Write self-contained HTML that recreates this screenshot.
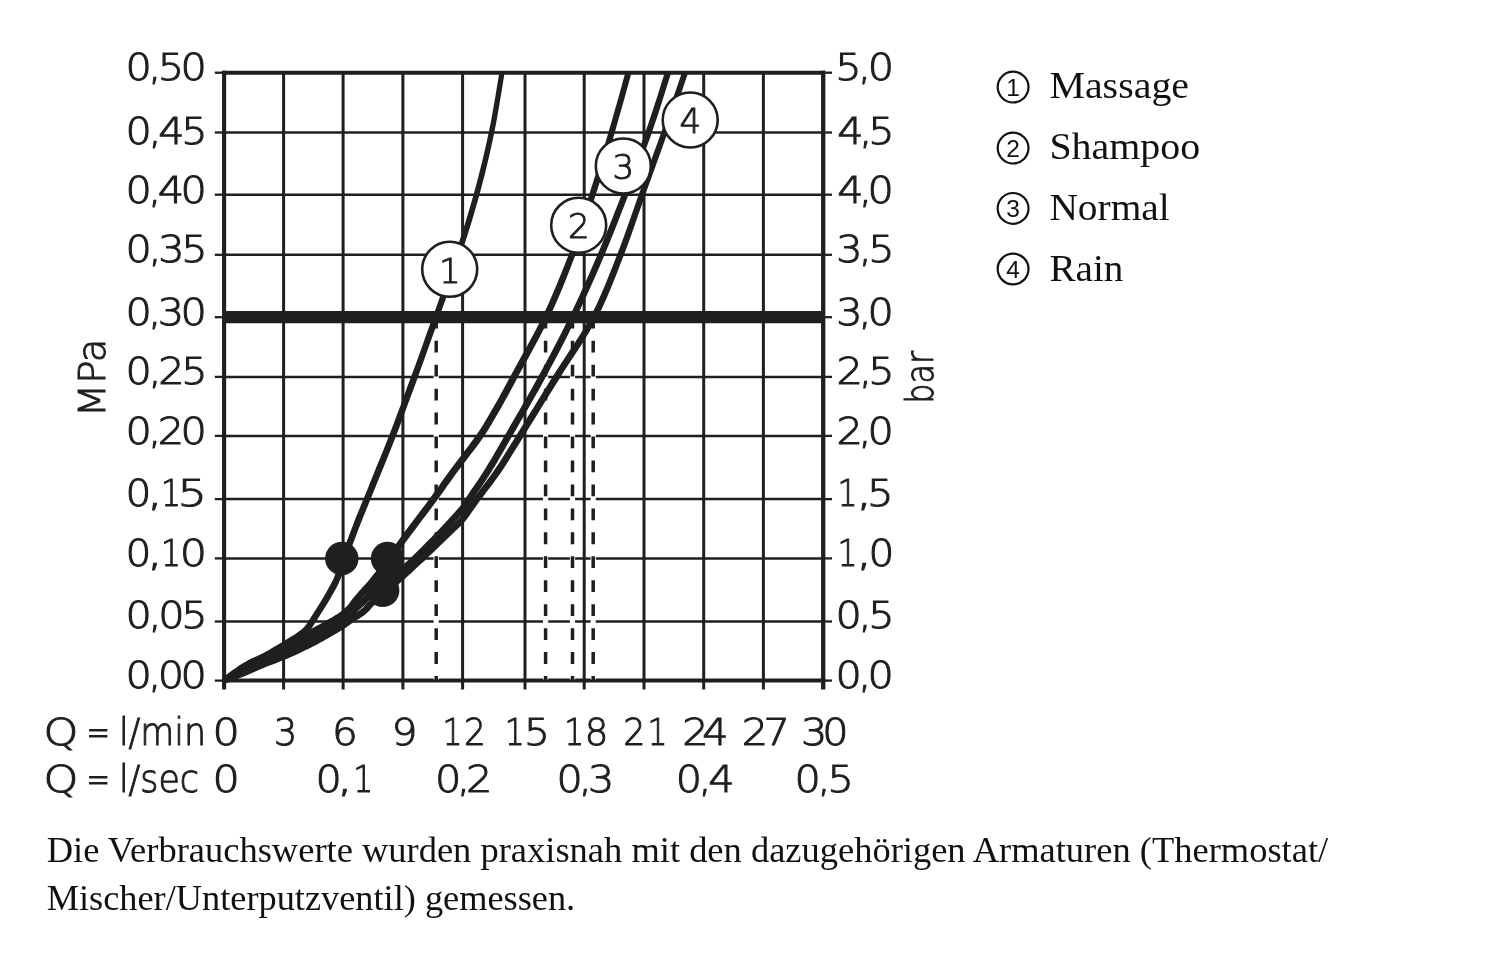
<!DOCTYPE html>
<html lang="de"><head><meta charset="utf-8"><title>Durchflussdiagramm</title>
<style>
html,body{margin:0;padding:0;background:#fff;}
body{width:1500px;height:956px;overflow:hidden;}
svg{display:block;}
.ax{font-family:"DejaVu Sans Light","DejaVu Sans","Liberation Sans",sans-serif;font-weight:200;font-size:33px;fill:#1f1e21;stroke:#1f1e21;stroke-width:1px;}
.se{font-family:"Liberation Serif",serif;fill:#111;}
.cn{font-family:"Liberation Sans",sans-serif;fill:#111;}
</style></head><body>
<svg width="1500" height="956" viewBox="0 0 1500 956">
<rect width="1500" height="956" fill="#fff"/>
<g stroke="#1f1e21" fill="none">
<line x1="224.1" y1="132.5" x2="823.2" y2="132.5" stroke-width="2.5"/>
<line x1="224.1" y1="194.7" x2="823.2" y2="194.7" stroke-width="2.5"/>
<line x1="224.1" y1="254.8" x2="823.2" y2="254.8" stroke-width="2.5"/>
<line x1="224.1" y1="376.9" x2="823.2" y2="376.9" stroke-width="2.5"/>
<line x1="224.1" y1="435.9" x2="823.2" y2="435.9" stroke-width="2.5"/>
<line x1="224.1" y1="499.1" x2="823.2" y2="499.1" stroke-width="2.5"/>
<line x1="224.1" y1="558.4" x2="823.2" y2="558.4" stroke-width="2.5"/>
<line x1="224.1" y1="621.5" x2="823.2" y2="621.5" stroke-width="2.5"/>
<line x1="283.6" y1="72.7" x2="283.6" y2="689.5" stroke-width="3"/>
<line x1="343.1" y1="72.7" x2="343.1" y2="689.5" stroke-width="3"/>
<line x1="402.9" y1="72.7" x2="402.9" y2="689.5" stroke-width="3"/>
<line x1="462.6" y1="72.7" x2="462.6" y2="689.5" stroke-width="3"/>
<line x1="525.0" y1="72.7" x2="525.0" y2="689.5" stroke-width="3"/>
<line x1="584.2" y1="72.7" x2="584.2" y2="689.5" stroke-width="3"/>
<line x1="644.0" y1="72.7" x2="644.0" y2="689.5" stroke-width="3"/>
<line x1="703.7" y1="72.7" x2="703.7" y2="689.5" stroke-width="3"/>
<line x1="763.4" y1="72.7" x2="763.4" y2="689.5" stroke-width="3"/>
<line x1="214.8" y1="72.7" x2="224.1" y2="72.7" stroke-width="2.3"/>
<line x1="823.2" y1="72.7" x2="832" y2="72.7" stroke-width="2.3"/>
<line x1="214.8" y1="132.5" x2="224.1" y2="132.5" stroke-width="2.3"/>
<line x1="823.2" y1="132.5" x2="832" y2="132.5" stroke-width="2.3"/>
<line x1="214.8" y1="194.7" x2="224.1" y2="194.7" stroke-width="2.3"/>
<line x1="823.2" y1="194.7" x2="832" y2="194.7" stroke-width="2.3"/>
<line x1="214.8" y1="254.8" x2="224.1" y2="254.8" stroke-width="2.3"/>
<line x1="823.2" y1="254.8" x2="832" y2="254.8" stroke-width="2.3"/>
<line x1="214.8" y1="317.2" x2="224.1" y2="317.2" stroke-width="2.3"/>
<line x1="823.2" y1="317.2" x2="832" y2="317.2" stroke-width="2.3"/>
<line x1="214.8" y1="376.9" x2="224.1" y2="376.9" stroke-width="2.3"/>
<line x1="823.2" y1="376.9" x2="832" y2="376.9" stroke-width="2.3"/>
<line x1="214.8" y1="435.9" x2="224.1" y2="435.9" stroke-width="2.3"/>
<line x1="823.2" y1="435.9" x2="832" y2="435.9" stroke-width="2.3"/>
<line x1="214.8" y1="499.1" x2="224.1" y2="499.1" stroke-width="2.3"/>
<line x1="823.2" y1="499.1" x2="832" y2="499.1" stroke-width="2.3"/>
<line x1="214.8" y1="558.4" x2="224.1" y2="558.4" stroke-width="2.3"/>
<line x1="823.2" y1="558.4" x2="832" y2="558.4" stroke-width="2.3"/>
<line x1="214.8" y1="621.5" x2="224.1" y2="621.5" stroke-width="2.3"/>
<line x1="823.2" y1="621.5" x2="832" y2="621.5" stroke-width="2.3"/>
<line x1="214.8" y1="680.6" x2="224.1" y2="680.6" stroke-width="2.3"/>
<line x1="823.2" y1="680.6" x2="832" y2="680.6" stroke-width="2.3"/>
<line x1="224.1" y1="70.7" x2="224.1" y2="689.5" stroke-width="4.1"/>
<line x1="823.2" y1="70.7" x2="823.2" y2="689.5" stroke-width="4.3"/>
<line x1="222.1" y1="72.7" x2="825.2" y2="72.7" stroke-width="4"/>
<line x1="222.1" y1="680.6" x2="825.2" y2="680.6" stroke-width="4"/>
</g>
<line x1="436.2" y1="323" x2="436.2" y2="679.6" stroke="#fff" stroke-width="5.2"/>
<line x1="436.2" y1="316.8" x2="436.2" y2="680.6" stroke="#1f1e21" stroke-width="3.5" stroke-dasharray="11.8 12.15"/>
<line x1="545.6" y1="323" x2="545.6" y2="679.6" stroke="#fff" stroke-width="5.2"/>
<line x1="545.6" y1="316.8" x2="545.6" y2="680.6" stroke="#1f1e21" stroke-width="3.5" stroke-dasharray="11.8 12.15"/>
<line x1="572.5" y1="323" x2="572.5" y2="679.6" stroke="#fff" stroke-width="5.2"/>
<line x1="572.5" y1="316.8" x2="572.5" y2="680.6" stroke="#1f1e21" stroke-width="3.5" stroke-dasharray="11.8 12.15"/>
<line x1="593.2" y1="323" x2="593.2" y2="679.6" stroke="#fff" stroke-width="5.2"/>
<line x1="593.2" y1="316.8" x2="593.2" y2="680.6" stroke="#1f1e21" stroke-width="3.5" stroke-dasharray="11.8 12.15"/>
<clipPath id="cp"><rect x="224.1" y="72.7" width="599.1" height="609.9"/></clipPath>
<g fill="#1f1e21" stroke="none" clip-path="url(#cp)">
<path d="M226.1 683.3 L228.4 681.6 L231.5 679.2 L235.3 676.4 L239.2 673.5 L243.2 670.8 L246.7 668.5 L250.0 666.7 L253.2 665.0 L256.5 663.5 L259.9 662.0 L263.2 660.4 L266.5 658.7 L269.8 656.9 L273.1 655.1 L276.2 653.2 L279.4 651.4 L282.4 649.6 L285.3 647.8 L288.2 646.1 L291.1 644.4 L293.9 642.6 L296.5 641.0 L299.0 639.4 L301.2 637.9 L303.0 636.6 L304.6 635.5 L305.9 634.4 L307.1 633.3 L308.3 632.2 L309.4 631.0 L310.6 629.7 L311.6 628.4 L312.5 627.1 L313.3 625.8 L314.0 624.6 L314.9 623.3 L315.7 622.0 L316.6 620.7 L317.4 619.4 L318.3 618.0 L319.2 616.4 L320.3 614.8 L321.4 613.0 L322.7 611.0 L324.0 609.0 L325.4 606.8 L326.9 604.3 L328.4 601.7 L330.2 598.7 L332.0 595.5 L334.0 592.1 L336.0 588.5 L337.8 584.9 L339.5 581.3 L341.0 577.9 L342.2 574.4 L343.4 571.0 L344.5 567.6 L345.5 564.3 L346.6 561.1 L347.8 557.9 L348.9 554.8 L350.0 551.7 L351.2 548.6 L352.4 545.4 L353.6 542.2 L354.9 538.8 L356.2 535.3 L357.5 531.8 L358.8 528.2 L360.2 524.7 L361.6 521.2 L362.8 518.2 L363.7 515.8 L364.7 513.4 L365.9 510.4 L367.7 506.3 L370.1 500.3 L373.4 492.2 L377.4 482.3 L382.0 471.1 L386.7 459.5 L391.3 447.9 L395.6 437.1 L399.5 427.0 L403.2 417.1 L406.8 407.3 L410.4 397.6 L414.0 387.9 L417.6 378.0 L421.1 368.1 L424.7 358.2 L428.2 348.2 L431.8 338.2 L435.4 328.2 L438.9 318.0 L442.6 307.8 L446.3 297.4 L450.1 286.9 L453.8 276.5 L457.4 266.0 L460.8 255.7 L464.1 245.6 L467.4 235.6 L470.5 225.6 L473.5 215.6 L476.4 205.6 L479.3 195.5 L482.0 185.1 L484.7 174.7 L487.2 164.2 L489.7 153.8 L492.0 143.3 L494.2 133.0 L496.3 122.3 L498.3 110.9 L500.2 99.6 L502.0 89.1 L503.4 80.1 L504.6 73.1 L505.4 68.8 L505.8 66.4 L505.9 65.5 L500.8 64.2 L505.9 65.1 L505.9 65.4 L500.7 64.6 L500.6 65.4 L505.8 65.9 L500.7 64.7 L500.6 65.5 L500.2 67.9 L499.4 72.3 L498.2 79.2 L496.7 88.3 L495.0 98.8 L493.0 110.0 L491.0 121.3 L488.8 132.0 L486.6 142.2 L484.3 152.5 L481.8 162.9 L479.2 173.3 L476.5 183.7 L473.7 193.9 L470.9 204.0 L467.9 214.0 L464.9 223.9 L461.8 233.8 L458.5 243.8 L455.2 253.9 L451.7 264.1 L448.0 274.5 L444.3 284.9 L440.5 295.3 L436.8 305.7 L433.1 316.0 L429.4 326.1 L425.8 336.1 L422.3 346.1 L418.7 356.0 L415.1 365.9 L411.4 375.8 L407.8 385.6 L404.2 395.3 L400.7 405.0 L397.0 414.8 L393.3 424.7 L389.4 434.7 L385.2 445.5 L380.6 457.0 L375.8 468.6 L371.3 479.8 L367.3 489.7 L363.9 497.9 L361.5 503.8 L359.8 507.9 L358.6 510.9 L357.6 513.3 L356.6 515.8 L355.4 518.8 L354.0 522.3 L352.7 525.9 L351.3 529.4 L350.0 533.0 L348.7 536.5 L347.4 539.8 L346.2 543.1 L345.0 546.3 L343.8 549.4 L342.7 552.5 L341.6 555.7 L340.4 558.9 L339.2 562.2 L338.2 565.6 L337.1 568.9 L336.0 572.2 L334.8 575.5 L333.5 578.7 L331.9 581.9 L330.1 585.4 L328.2 588.8 L326.3 592.2 L324.4 595.4 L322.8 598.3 L321.2 600.9 L319.8 603.3 L318.4 605.4 L317.1 607.5 L315.9 609.4 L314.7 611.2 L313.6 612.9 L312.7 614.5 L311.8 615.8 L311.0 617.1 L310.2 618.4 L309.3 619.7 L308.5 621.0 L307.7 622.3 L306.9 623.5 L306.2 624.6 L305.4 625.6 L304.6 626.6 L303.6 627.5 L302.7 628.4 L301.7 629.3 L300.5 630.2 L299.1 631.3 L297.4 632.5 L295.4 633.9 L293.0 635.4 L290.4 637.0 L287.6 638.7 L284.8 640.4 L281.9 642.2 L279.0 643.9 L276.0 645.7 L272.9 647.5 L269.8 649.4 L266.6 651.2 L263.5 652.9 L260.3 654.5 L257.1 656.0 L253.8 657.5 L250.3 659.1 L246.8 660.9 L243.3 662.9 L239.5 665.3 L235.4 668.2 L231.3 671.1 L227.6 673.9 L224.4 676.3 L222.1 677.9Z"/>
<path d="M226.0 683.5 L228.3 682.0 L231.5 679.9 L235.2 677.4 L239.2 674.8 L243.1 672.4 L246.7 670.3 L250.0 668.5 L253.3 666.9 L256.6 665.4 L259.9 663.9 L263.2 662.4 L266.5 660.9 L269.7 659.3 L272.7 657.8 L275.6 656.3 L278.6 654.8 L281.8 653.1 L285.3 651.3 L289.1 649.2 L293.4 646.8 L297.7 644.3 L302.1 641.9 L306.1 639.6 L309.8 637.6 L313.0 635.8 L315.9 634.2 L318.6 632.8 L321.1 631.5 L323.5 630.2 L325.9 628.9 L328.2 627.6 L330.3 626.4 L332.4 625.2 L334.3 624.1 L336.1 623.0 L337.7 622.0 L339.2 621.1 L340.5 620.3 L341.7 619.5 L342.8 618.7 L344.0 617.9 L345.3 617.0 L346.6 615.9 L347.9 614.7 L349.3 613.5 L350.6 612.3 L351.9 611.1 L353.1 609.9 L354.1 608.7 L355.0 607.5 L355.6 606.5 L356.3 605.5 L356.9 604.5 L357.8 603.4 L359.0 602.0 L360.4 600.3 L362.0 598.5 L363.6 596.7 L365.1 594.9 L366.5 593.3 L367.7 592.1 L368.6 591.1 L369.6 590.1 L370.7 588.9 L372.1 587.3 L373.9 585.1 L376.2 582.3 L378.9 578.9 L381.9 575.2 L384.9 571.3 L388.0 567.3 L390.8 563.6 L393.3 560.2 L395.4 557.0 L397.5 553.9 L399.8 550.6 L402.5 546.7 L405.8 542.1 L410.1 536.3 L415.2 529.5 L420.7 522.1 L426.3 514.7 L431.7 507.6 L436.4 501.2 L440.4 495.7 L444.0 490.7 L447.2 486.1 L450.4 481.7 L453.7 477.1 L457.3 472.1 L461.4 466.7 L465.7 460.9 L470.2 455.1 L474.7 449.2 L479.0 443.4 L482.9 437.9 L486.4 432.7 L489.5 427.7 L492.4 422.8 L495.2 418.1 L498.0 413.3 L500.7 408.4 L503.4 403.8 L505.7 399.6 L508.0 395.4 L510.5 390.7 L513.5 385.3 L517.0 378.6 L521.5 370.3 L526.7 360.9 L532.4 350.6 L538.2 339.8 L543.8 329.0 L549.0 318.5 L553.8 308.1 L558.4 297.7 L562.8 287.2 L567.0 276.7 L571.1 266.3 L575.0 255.9 L578.8 245.8 L582.3 235.7 L585.7 225.8 L588.9 215.8 L592.2 205.8 L595.4 195.7 L598.7 185.4 L602.0 175.0 L605.2 164.5 L608.4 154.0 L611.5 143.6 L614.5 133.4 L617.6 122.6 L620.8 111.3 L624.0 100.0 L626.9 89.5 L629.4 80.4 L631.3 73.5 L632.5 69.1 L633.2 66.8 L633.4 65.8 L627.8 63.8 L633.4 65.2 L633.4 65.7 L627.6 64.3 L627.4 65.2 L633.2 66.4 L627.6 64.4 L627.4 65.2 L626.7 67.5 L625.5 71.9 L623.6 78.8 L621.1 87.9 L618.2 98.4 L615.0 109.6 L611.8 121.0 L608.7 131.6 L605.6 141.9 L602.5 152.2 L599.3 162.7 L596.0 173.1 L592.7 183.5 L589.4 193.7 L586.1 203.8 L582.9 213.8 L579.6 223.7 L576.2 233.6 L572.7 243.6 L569.0 253.7 L565.0 263.9 L560.9 274.2 L556.7 284.6 L552.3 295.0 L547.7 305.4 L543.0 315.5 L537.8 325.9 L532.2 336.7 L526.4 347.3 L520.7 357.6 L515.5 367.0 L511.0 375.2 L507.3 382.0 L504.4 387.4 L501.9 392.1 L499.6 396.2 L497.3 400.4 L494.7 405.0 L491.9 409.8 L489.2 414.5 L486.4 419.2 L483.6 424.0 L480.5 428.9 L477.1 433.9 L473.3 439.3 L469.1 445.0 L464.7 450.8 L460.2 456.7 L455.8 462.4 L451.7 467.9 L448.0 473.0 L444.7 477.6 L441.5 482.1 L438.3 486.7 L434.8 491.6 L430.8 497.0 L426.1 503.4 L420.7 510.5 L415.1 517.9 L409.6 525.3 L404.5 532.1 L400.2 537.9 L396.8 542.7 L394.0 546.6 L391.7 550.0 L389.7 553.1 L387.6 556.1 L385.2 559.4 L382.4 563.1 L379.4 567.0 L376.4 570.9 L373.4 574.6 L370.7 577.9 L368.5 580.7 L366.8 582.7 L365.5 584.2 L364.5 585.2 L363.6 586.2 L362.5 587.3 L361.3 588.7 L359.8 590.3 L358.3 592.1 L356.7 593.9 L355.1 595.7 L353.7 597.5 L352.4 599.0 L351.3 600.4 L350.5 601.6 L349.8 602.6 L349.2 603.5 L348.6 604.3 L347.9 605.1 L346.9 606.1 L345.8 607.2 L344.6 608.3 L343.4 609.4 L342.1 610.5 L340.9 611.4 L339.9 612.3 L338.9 613.0 L337.9 613.7 L336.8 614.4 L335.5 615.1 L334.1 616.0 L332.5 617.0 L330.7 618.0 L328.8 619.1 L326.9 620.3 L324.7 621.5 L322.5 622.7 L320.2 624.0 L317.8 625.3 L315.3 626.6 L312.6 628.1 L309.7 629.7 L306.4 631.4 L302.7 633.5 L298.6 635.8 L294.3 638.3 L289.9 640.7 L285.7 643.0 L281.9 645.1 L278.5 646.9 L275.4 648.6 L272.4 650.1 L269.5 651.6 L266.6 653.0 L263.5 654.5 L260.3 656.1 L257.0 657.5 L253.7 659.0 L250.3 660.6 L246.8 662.3 L243.3 664.1 L239.5 666.4 L235.4 668.9 L231.4 671.6 L227.6 674.1 L224.4 676.2 L222.2 677.7Z"/>
<path d="M225.6 683.6 L227.9 682.5 L231.1 680.9 L234.8 679.0 L238.9 676.9 L242.8 674.9 L246.5 673.2 L249.8 671.6 L253.2 670.0 L256.5 668.5 L259.9 667.0 L263.1 665.6 L266.4 664.1 L269.5 662.7 L272.5 661.4 L275.6 660.1 L278.6 658.8 L281.8 657.4 L285.1 655.9 L288.5 654.2 L292.1 652.4 L295.8 650.5 L299.4 648.6 L303.1 646.7 L306.6 644.8 L310.0 643.0 L313.4 641.2 L316.8 639.4 L320.2 637.6 L323.5 635.8 L326.7 633.9 L330.0 632.0 L333.3 630.0 L336.6 628.0 L339.7 626.0 L342.6 624.2 L345.0 622.6 L347.0 621.3 L348.5 620.1 L349.8 619.1 L350.9 618.1 L351.8 617.3 L352.8 616.4 L353.8 615.5 L354.6 614.6 L355.3 613.9 L355.9 613.2 L356.6 612.4 L357.5 611.6 L358.6 610.5 L360.0 609.2 L361.6 607.8 L363.2 606.4 L364.8 605.0 L366.3 603.5 L367.7 602.1 L368.9 600.7 L370.0 599.4 L371.1 598.1 L372.2 596.9 L373.5 595.7 L374.9 594.5 L376.3 593.4 L377.9 592.2 L379.6 590.9 L381.6 589.4 L383.8 587.7 L386.4 585.8 L389.4 583.6 L392.5 581.3 L395.8 578.9 L398.9 576.5 L401.9 574.2 L404.5 572.1 L406.7 570.3 L409.0 568.5 L411.3 566.4 L414.1 564.0 L417.4 560.8 L421.4 556.9 L426.1 552.2 L431.1 547.1 L436.3 541.9 L441.1 536.9 L445.5 532.3 L449.4 528.2 L453.1 524.2 L456.7 520.4 L459.9 516.8 L462.8 513.5 L465.2 510.7 L466.9 508.6 L468.0 507.1 L468.7 506.0 L469.3 505.0 L470.2 503.5 L471.8 501.0 L474.3 497.4 L477.3 493.0 L480.7 488.0 L484.3 482.7 L487.9 477.2 L491.4 471.8 L494.5 466.7 L497.5 461.7 L500.5 456.5 L503.7 451.0 L507.2 444.8 L511.3 437.6 L516.2 429.2 L521.6 419.8 L527.5 409.7 L533.4 399.2 L539.4 388.7 L545.0 378.5 L550.3 368.6 L555.6 358.7 L560.8 348.7 L566.0 338.7 L571.0 328.6 L576.0 318.4 L580.9 308.1 L585.7 297.7 L590.4 287.3 L595.1 276.8 L599.6 266.4 L604.0 256.1 L608.2 245.9 L612.3 235.9 L616.3 225.9 L620.2 216.0 L624.1 206.0 L628.0 195.9 L632.0 185.6 L636.0 175.2 L640.0 164.7 L644.0 154.2 L647.9 143.8 L651.6 133.5 L655.2 122.8 L659.0 111.4 L662.6 100.1 L665.9 89.6 L668.7 80.6 L671.0 73.6 L672.4 69.3 L673.1 66.9 L673.4 66.1 L667.5 64.1 L673.4 66.2 L673.4 66.0 L667.6 64.0 L667.5 64.3 L673.4 66.0 L667.5 64.2 L667.2 65.0 L666.5 67.4 L665.0 71.8 L662.8 78.7 L660.0 87.8 L656.7 98.3 L653.0 109.5 L649.3 120.8 L645.6 131.5 L642.0 141.7 L638.1 152.0 L634.1 162.4 L630.1 172.9 L626.0 183.3 L622.0 193.5 L618.1 203.7 L614.2 213.6 L610.3 223.6 L606.3 233.5 L602.2 243.4 L598.0 253.5 L593.6 263.8 L589.1 274.1 L584.4 284.6 L579.7 295.0 L574.9 305.3 L570.0 315.6 L565.1 325.6 L560.0 335.7 L554.9 345.6 L549.7 355.5 L544.4 365.4 L539.0 375.3 L533.4 385.4 L527.5 395.9 L521.6 406.3 L515.7 416.4 L510.3 425.8 L505.5 434.2 L501.3 441.4 L497.8 447.6 L494.6 453.1 L491.7 458.2 L488.7 463.1 L485.6 468.2 L482.2 473.5 L478.7 478.9 L475.1 484.2 L471.7 489.1 L468.7 493.5 L466.2 497.2 L464.5 499.9 L463.4 501.5 L462.9 502.5 L462.4 503.3 L461.6 504.3 L460.0 506.3 L457.6 509.1 L454.8 512.2 L451.6 515.8 L448.2 519.6 L444.4 523.5 L440.5 527.7 L436.2 532.2 L431.4 537.2 L426.3 542.3 L421.3 547.4 L416.6 552.1 L412.6 556.0 L409.4 559.0 L406.8 561.3 L404.6 563.3 L402.5 565.0 L400.2 566.8 L397.7 568.8 L394.8 571.1 L391.7 573.4 L388.5 575.8 L385.3 578.1 L382.4 580.3 L379.8 582.3 L377.5 584.0 L375.6 585.4 L373.8 586.7 L372.1 588.0 L370.5 589.3 L368.9 590.7 L367.4 592.1 L366.1 593.6 L364.9 594.9 L363.8 596.2 L362.7 597.5 L361.5 598.7 L360.2 600.0 L358.6 601.4 L357.1 602.8 L355.5 604.1 L354.1 605.4 L352.7 606.6 L351.7 607.7 L350.8 608.6 L350.2 609.4 L349.6 610.0 L349.0 610.7 L348.2 611.4 L347.3 612.2 L346.4 613.0 L345.5 613.8 L344.4 614.7 L343.0 615.7 L341.2 617.0 L338.9 618.5 L336.1 620.3 L333.0 622.2 L329.8 624.2 L326.5 626.2 L323.3 628.1 L320.1 629.9 L316.9 631.6 L313.6 633.4 L310.3 635.2 L306.9 637.0 L303.4 638.8 L299.9 640.6 L296.3 642.5 L292.6 644.4 L289.0 646.3 L285.5 648.1 L282.1 649.7 L278.9 651.2 L275.9 652.6 L272.9 653.9 L269.9 655.2 L266.8 656.5 L263.6 657.9 L260.4 659.3 L257.1 660.8 L253.7 662.3 L250.4 663.8 L247.0 665.4 L243.5 667.0 L239.8 668.8 L235.8 670.8 L231.8 672.9 L228.0 674.8 L224.8 676.4 L222.6 677.6Z"/>
<path d="M225.3 683.8 L227.6 682.9 L230.8 681.6 L234.5 680.2 L238.6 678.6 L242.6 676.9 L246.3 675.4 L249.7 674.0 L253.1 672.5 L256.5 671.0 L259.8 669.6 L263.1 668.2 L266.3 666.8 L269.5 665.6 L272.6 664.4 L275.8 663.2 L278.9 662.0 L281.9 660.8 L284.9 659.6 L287.7 658.4 L290.5 657.2 L293.1 656.0 L295.7 654.9 L298.2 653.7 L300.8 652.5 L303.3 651.3 L305.7 650.1 L308.2 648.9 L310.6 647.7 L313.0 646.5 L315.5 645.2 L318.0 643.9 L320.4 642.5 L322.9 641.2 L325.4 639.8 L327.9 638.4 L330.3 636.9 L332.8 635.5 L335.4 634.0 L338.0 632.4 L340.5 630.9 L342.9 629.5 L344.9 628.3 L346.6 627.2 L347.8 626.3 L348.9 625.6 L349.9 624.8 L351.0 624.0 L352.4 623.0 L354.3 621.8 L356.6 620.3 L359.1 618.7 L361.6 617.1 L363.9 615.4 L366.0 613.8 L367.7 612.3 L369.1 610.9 L370.2 609.7 L371.1 608.5 L372.2 607.3 L373.5 606.0 L375.2 604.5 L377.2 602.8 L379.3 601.1 L381.6 599.2 L384.0 597.2 L386.6 595.0 L389.3 592.6 L392.2 590.1 L395.3 587.4 L398.4 584.6 L401.5 581.8 L404.7 578.9 L407.9 576.0 L411.3 572.9 L414.7 569.7 L418.1 566.6 L421.4 563.6 L424.3 560.9 L427.0 558.4 L429.4 556.1 L431.6 554.0 L433.8 551.9 L436.0 549.7 L438.4 547.4 L440.9 545.0 L443.6 542.4 L446.3 539.8 L449.0 537.2 L451.5 534.7 L453.9 532.4 L455.9 530.5 L457.7 528.9 L459.4 527.3 L461.2 525.6 L463.1 523.6 L465.2 521.2 L467.4 518.4 L469.6 515.4 L471.9 512.1 L474.3 508.7 L476.9 505.0 L479.7 501.1 L482.9 496.9 L486.3 492.3 L490.0 487.5 L493.8 482.4 L497.6 477.2 L501.3 471.9 L504.8 466.8 L508.0 461.7 L511.2 456.6 L514.6 451.1 L518.4 444.9 L522.9 437.7 L528.1 429.3 L533.9 419.9 L540.1 409.8 L546.6 399.3 L553.1 388.9 L559.4 378.7 L565.6 368.8 L572.1 358.9 L578.7 349.0 L585.1 338.9 L591.2 328.8 L596.9 318.5 L602.1 308.2 L606.8 297.7 L611.3 287.1 L615.5 276.7 L619.5 266.2 L623.5 256.0 L627.4 245.8 L631.0 235.8 L634.5 225.8 L637.9 215.8 L641.4 205.9 L644.9 195.8 L648.6 185.5 L652.4 175.1 L656.2 164.6 L659.9 154.2 L663.6 143.8 L667.3 133.5 L671.0 122.8 L674.9 111.4 L678.8 100.2 L682.4 89.7 L685.5 80.6 L687.8 73.7 L689.3 69.2 L690.1 66.9 L690.4 65.7 L685.7 62.6 L689.2 62.9 L690.3 65.5 L684.3 64.5 L685.4 67.6 L689.1 67.5 L684.5 64.6 L684.3 65.1 L683.6 67.4 L682.2 71.7 L679.8 78.7 L676.7 87.7 L673.1 98.2 L669.2 109.5 L665.3 120.8 L661.5 131.5 L657.9 141.7 L654.1 152.1 L650.4 162.5 L646.6 173.0 L642.8 183.4 L639.1 193.6 L635.5 203.8 L632.0 213.8 L628.5 223.7 L625.0 233.6 L621.4 243.6 L617.5 253.6 L613.5 263.9 L609.4 274.3 L605.2 284.7 L600.8 295.0 L596.2 305.3 L591.1 315.5 L585.5 325.5 L579.5 335.4 L573.1 345.3 L566.5 355.2 L560.0 365.2 L553.6 375.1 L547.3 385.3 L540.8 395.8 L534.4 406.2 L528.1 416.3 L522.3 425.7 L517.1 434.1 L512.7 441.3 L508.8 447.5 L505.4 453.0 L502.2 458.1 L499.1 463.0 L495.7 468.1 L492.1 473.3 L488.3 478.4 L484.6 483.4 L480.9 488.2 L477.5 492.8 L474.3 497.1 L471.4 501.1 L468.8 504.8 L466.4 508.2 L464.1 511.4 L462.0 514.2 L460.0 516.8 L458.1 519.0 L456.4 520.8 L454.8 522.3 L453.1 523.9 L451.3 525.5 L449.1 527.6 L446.8 529.8 L444.2 532.3 L441.6 534.9 L438.9 537.5 L436.2 540.1 L433.6 542.6 L431.3 544.8 L429.1 547.0 L426.9 549.1 L424.7 551.2 L422.3 553.4 L419.7 555.9 L416.7 558.7 L413.5 561.6 L410.2 564.7 L406.7 567.9 L403.4 570.9 L400.1 573.9 L397.0 576.7 L393.8 579.5 L390.7 582.3 L387.7 585.0 L384.9 587.5 L382.2 589.8 L379.7 592.0 L377.3 594.0 L375.0 595.8 L372.8 597.6 L370.8 599.3 L368.9 601.0 L367.3 602.6 L366.0 604.1 L364.9 605.3 L364.0 606.4 L363.1 607.4 L361.8 608.6 L360.0 609.9 L357.8 611.4 L355.4 613.0 L352.9 614.6 L350.6 616.1 L348.6 617.4 L347.0 618.5 L345.8 619.4 L344.8 620.1 L343.9 620.8 L342.8 621.6 L341.3 622.5 L339.3 623.7 L337.1 625.1 L334.6 626.6 L332.0 628.1 L329.4 629.6 L326.9 631.1 L324.5 632.5 L322.0 633.8 L319.6 635.2 L317.2 636.6 L314.7 637.9 L312.3 639.2 L309.9 640.4 L307.5 641.6 L305.2 642.8 L302.8 644.0 L300.3 645.1 L297.8 646.3 L295.3 647.5 L292.8 648.7 L290.3 649.9 L287.7 651.0 L285.0 652.2 L282.3 653.4 L279.4 654.5 L276.5 655.7 L273.4 656.8 L270.2 658.0 L267.0 659.3 L263.7 660.6 L260.4 661.9 L257.1 663.4 L253.8 664.8 L250.4 666.3 L247.1 667.7 L243.7 669.2 L240.1 670.6 L236.1 672.2 L232.1 673.8 L228.3 675.3 L225.1 676.5 L222.9 677.4Z"/>
</g>
<line x1="222.1" y1="317.2" x2="823.2" y2="317.2" stroke="#1f1e21" stroke-width="12.2"/>
<circle cx="341.8" cy="558.5" r="16.7" fill="#1f1e21"/>
<circle cx="387.5" cy="558.5" r="16.7" fill="#1f1e21"/>
<circle cx="382.7" cy="590.4" r="16.7" fill="#1f1e21"/>
<circle cx="449.7" cy="269.3" r="27.5" fill="#fff" stroke="#1f1e21" stroke-width="2.6"/>
<text class="ax" x="449.7" y="282.5" text-anchor="middle" style="font-size:34px">1</text>
<circle cx="578.7" cy="225.2" r="27.5" fill="#fff" stroke="#1f1e21" stroke-width="2.6"/>
<text class="ax" x="578.7" y="238.4" text-anchor="middle" style="font-size:34px">2</text>
<circle cx="623.3" cy="166.0" r="27.5" fill="#fff" stroke="#1f1e21" stroke-width="2.6"/>
<text class="ax" x="623.3" y="179.2" text-anchor="middle" style="font-size:34px">3</text>
<circle cx="690.2" cy="120.0" r="27.5" fill="#fff" stroke="#1f1e21" stroke-width="2.6"/>
<text class="ax" x="690.2" y="133.2" text-anchor="middle" style="font-size:34px">4</text>
<text class="ax" x="125.4" y="80.3" textLength="78.0" lengthAdjust="spacingAndGlyphs" letter-spacing="-3.20" style="font-size:37px">0,50</text>
<text class="ax" x="125.4" y="144.3" textLength="78.9" lengthAdjust="spacingAndGlyphs" letter-spacing="-2.98" style="font-size:37px">0,45</text>
<text class="ax" x="125.4" y="202.5" textLength="78.0" lengthAdjust="spacingAndGlyphs" letter-spacing="-3.20" style="font-size:37px">0,40</text>
<text class="ax" x="125.4" y="262.2" textLength="78.9" lengthAdjust="spacingAndGlyphs" letter-spacing="-2.98" style="font-size:37px">0,35</text>
<text class="ax" x="125.4" y="324.5" textLength="78.0" lengthAdjust="spacingAndGlyphs" letter-spacing="-3.20" style="font-size:37px">0,30</text>
<text class="ax" x="125.4" y="384.2" textLength="78.9" lengthAdjust="spacingAndGlyphs" letter-spacing="-2.98" style="font-size:37px">0,25</text>
<text class="ax" x="125.4" y="443.8" textLength="78.0" lengthAdjust="spacingAndGlyphs" letter-spacing="-3.20" style="font-size:37px">0,20</text>
<text class="ax" y="505.7" style="font-size:37px"><tspan x="125.4" textLength="25.9" lengthAdjust="spacingAndGlyphs">0</tspan><tspan x="146.8" textLength="16.5" lengthAdjust="spacingAndGlyphs">,</tspan><tspan x="161.1" textLength="20.0" lengthAdjust="spacingAndGlyphs">1</tspan><tspan x="177.4" textLength="29.5" lengthAdjust="spacingAndGlyphs">5</tspan></text>
<text class="ax" y="566.0" style="font-size:37px"><tspan x="125.4" textLength="25.9" lengthAdjust="spacingAndGlyphs">0</tspan><tspan x="146.8" textLength="16.5" lengthAdjust="spacingAndGlyphs">,</tspan><tspan x="161.1" textLength="20.0" lengthAdjust="spacingAndGlyphs">1</tspan><tspan x="179.8" textLength="27.3" lengthAdjust="spacingAndGlyphs">0</tspan></text>
<text class="ax" x="125.4" y="628.4" textLength="78.9" lengthAdjust="spacingAndGlyphs" letter-spacing="-2.98" style="font-size:37px">0,05</text>
<text class="ax" x="125.4" y="688.0" textLength="78.0" lengthAdjust="spacingAndGlyphs" letter-spacing="-3.20" style="font-size:37px">0,00</text>
<text class="ax" x="835.3" y="80.3" textLength="55.1" lengthAdjust="spacingAndGlyphs" letter-spacing="-3.22" style="font-size:37px">5,0</text>
<text class="ax" x="837.2" y="144.3" textLength="53.2" lengthAdjust="spacingAndGlyphs" letter-spacing="-3.78" style="font-size:37px">4,5</text>
<text class="ax" x="837.2" y="202.5" textLength="52.1" lengthAdjust="spacingAndGlyphs" letter-spacing="-4.10" style="font-size:37px">4,0</text>
<text class="ax" x="836.2" y="262.2" textLength="54.8" lengthAdjust="spacingAndGlyphs" letter-spacing="-3.31" style="font-size:37px">3,5</text>
<text class="ax" x="836.2" y="324.5" textLength="53.7" lengthAdjust="spacingAndGlyphs" letter-spacing="-3.64" style="font-size:37px">3,0</text>
<text class="ax" x="836.4" y="384.2" textLength="54.5" lengthAdjust="spacingAndGlyphs" letter-spacing="-3.41" style="font-size:37px">2,5</text>
<text class="ax" x="836.4" y="443.8" textLength="53.4" lengthAdjust="spacingAndGlyphs" letter-spacing="-3.73" style="font-size:37px">2,0</text>
<text class="ax" y="505.7" style="font-size:37px"><tspan x="837.4" textLength="20.0" lengthAdjust="spacingAndGlyphs">1</tspan><tspan x="856.0" textLength="16.5" lengthAdjust="spacingAndGlyphs">,</tspan><tspan x="867.1" textLength="26.6" lengthAdjust="spacingAndGlyphs">5</tspan></text>
<text class="ax" y="566.0" style="font-size:37px"><tspan x="837.4" textLength="20.0" lengthAdjust="spacingAndGlyphs">1</tspan><tspan x="856.0" textLength="16.5" lengthAdjust="spacingAndGlyphs">,</tspan><tspan x="868.4" textLength="25.9" lengthAdjust="spacingAndGlyphs">0</tspan></text>
<text class="ax" x="835.6" y="628.4" textLength="55.7" lengthAdjust="spacingAndGlyphs" letter-spacing="-3.04" style="font-size:37px">0,5</text>
<text class="ax" x="835.6" y="688.0" textLength="54.6" lengthAdjust="spacingAndGlyphs" letter-spacing="-3.36" style="font-size:37px">0,0</text>
<text class="ax" transform="translate(104.6,411.5) rotate(-90)" x="-5.7" y="0" textLength="78.7" lengthAdjust="spacingAndGlyphs" style="font-size:37px">MPa</text>
<text class="ax" transform="translate(932.8,400.6) rotate(-90)" x="-3.2" y="0" textLength="52.8" lengthAdjust="spacingAndGlyphs" style="font-size:36.5px">bar</text>
<text class="ax" y="744.6" style="font-size:37px"><tspan x="43.5" textLength="34.9" lengthAdjust="spacingAndGlyphs">Q</tspan> <tspan x="86.4" textLength="23.5" lengthAdjust="spacingAndGlyphs">=</tspan> <tspan x="118.9" textLength="87.2" lengthAdjust="spacingAndGlyphs">l/min</tspan></text>
<text class="ax" y="792.1" style="font-size:37px"><tspan x="43.5" textLength="34.9" lengthAdjust="spacingAndGlyphs">Q</tspan> <tspan x="86.4" textLength="23.5" lengthAdjust="spacingAndGlyphs">=</tspan> <tspan x="118.9" textLength="80.1" lengthAdjust="spacingAndGlyphs">l/sec</tspan></text>
<text class="ax" x="212.6" y="744.6" textLength="27.4" lengthAdjust="spacingAndGlyphs" style="font-size:37px">0</text>
<text class="ax" x="273.9" y="744.6" textLength="23.2" lengthAdjust="spacingAndGlyphs" style="font-size:37px">3</text>
<text class="ax" x="332.0" y="744.6" textLength="25.9" lengthAdjust="spacingAndGlyphs" style="font-size:37px">6</text>
<text class="ax" x="391.4" y="744.6" textLength="26.0" lengthAdjust="spacingAndGlyphs" style="font-size:37px">9</text>
<text class="ax" y="744.6" style="font-size:37px"><tspan x="442.5" textLength="20.0" lengthAdjust="spacingAndGlyphs">1</tspan><tspan x="464.0" textLength="21.8" lengthAdjust="spacingAndGlyphs">2</tspan></text>
<text class="ax" y="744.6" style="font-size:37px"><tspan x="504.8" textLength="20.0" lengthAdjust="spacingAndGlyphs">1</tspan><tspan x="524.0" textLength="25.9" lengthAdjust="spacingAndGlyphs">5</tspan></text>
<text class="ax" y="744.6" style="font-size:37px"><tspan x="564.2" textLength="20.0" lengthAdjust="spacingAndGlyphs">1</tspan><tspan x="584.7" textLength="23.6" lengthAdjust="spacingAndGlyphs">8</tspan></text>
<text class="ax" y="744.6" style="font-size:37px"><tspan x="623.2" textLength="22.2" lengthAdjust="spacingAndGlyphs">2</tspan><tspan x="647.4" textLength="20.0" lengthAdjust="spacingAndGlyphs">1</tspan></text>
<text class="ax" x="682.3" y="744.6" textLength="39.9" lengthAdjust="spacingAndGlyphs" letter-spacing="-5.73" style="font-size:37px">24</text>
<text class="ax" x="741.7" y="744.6" textLength="43.8" lengthAdjust="spacingAndGlyphs" letter-spacing="-3.99" style="font-size:37px">27</text>
<text class="ax" x="800.9" y="744.6" textLength="42.7" lengthAdjust="spacingAndGlyphs" letter-spacing="-4.46" style="font-size:37px">30</text>
<text class="ax" x="212.6" y="792.1" textLength="27.4" lengthAdjust="spacingAndGlyphs" style="font-size:37px">0</text>
<text class="ax" y="792.1" style="font-size:37px"><tspan x="315.5" textLength="26.4" lengthAdjust="spacingAndGlyphs">0</tspan><tspan x="336.8" textLength="16.5" lengthAdjust="spacingAndGlyphs">,</tspan><tspan x="353.2" textLength="20.0" lengthAdjust="spacingAndGlyphs">1</tspan></text>
<text class="ax" x="434.9" y="792.1" textLength="53.3" lengthAdjust="spacingAndGlyphs" letter-spacing="-3.76" style="font-size:37px">0,2</text>
<text class="ax" x="556.6" y="792.1" textLength="53.6" lengthAdjust="spacingAndGlyphs" letter-spacing="-3.66" style="font-size:37px">0,3</text>
<text class="ax" x="675.7" y="792.1" textLength="55.3" lengthAdjust="spacingAndGlyphs" letter-spacing="-3.14" style="font-size:37px">0,4</text>
<text class="ax" x="794.5" y="792.1" textLength="56.0" lengthAdjust="spacingAndGlyphs" letter-spacing="-2.95" style="font-size:37px">0,5</text>
<circle cx="1013.1" cy="87.1" r="15.4" fill="none" stroke="#111" stroke-width="2.2"/>
<text class="cn" x="1013.1" y="95.8" text-anchor="middle" font-size="24.5">1</text>
<text class="se" x="1049.4" y="98.4" font-size="38.3" textLength="139.7" lengthAdjust="spacingAndGlyphs">Massage</text>
<circle cx="1013.1" cy="148.1" r="15.4" fill="none" stroke="#111" stroke-width="2.2"/>
<text class="cn" x="1013.1" y="156.8" text-anchor="middle" font-size="24.5">2</text>
<text class="se" x="1049.4" y="158.6" font-size="38.3" textLength="150.9" lengthAdjust="spacingAndGlyphs">Shampoo</text>
<circle cx="1013.1" cy="208.4" r="15.4" fill="none" stroke="#111" stroke-width="2.2"/>
<text class="cn" x="1013.1" y="217.1" text-anchor="middle" font-size="24.5">3</text>
<text class="se" x="1049.4" y="219.9" font-size="38.3" textLength="120.3" lengthAdjust="spacingAndGlyphs">Normal</text>
<circle cx="1013.1" cy="269.0" r="15.4" fill="none" stroke="#111" stroke-width="2.2"/>
<text class="cn" x="1013.1" y="277.7" text-anchor="middle" font-size="24.5">4</text>
<text class="se" x="1049.4" y="280.9" font-size="38.3" textLength="74.0" lengthAdjust="spacingAndGlyphs">Rain</text>
<text class="se" x="46.7" y="861.8" font-size="36.2" textLength="1281.5" lengthAdjust="spacingAndGlyphs">Die Verbrauchswerte wurden praxisnah mit den dazugehörigen Armaturen (Thermostat/</text>
<text class="se" x="46.7" y="909.7" font-size="36.2" textLength="528.5" lengthAdjust="spacingAndGlyphs">Mischer/Unterputzventil) gemessen.</text>
</svg></body></html>
